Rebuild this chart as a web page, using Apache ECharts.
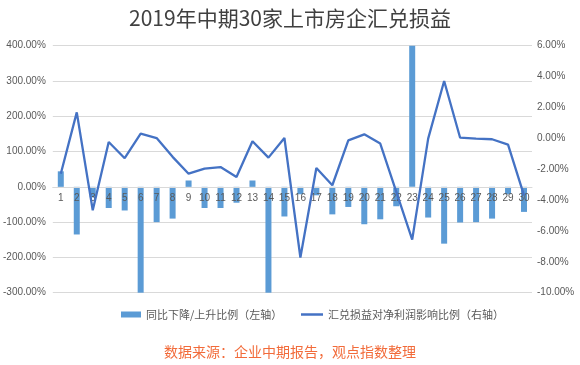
<!DOCTYPE html>
<html>
<head>
<meta charset="utf-8">
<script src="https://cdn.jsdelivr.net/npm/echarts@6/dist/echarts.min.js"></script>
<style>
html,body{margin:0;padding:0;background:#fff;}
#c{width:580px;height:365px;}
</style>
</head>
<body>
<div id="c"></div>
<script>
const titleText = '2019年中期30家上市房企汇兑损益';
const sourceText = '数据来源：企业中期报告，观点指数整理';
const categories = ['1','2','3','4','5','6','7','8','9','10','11','12','13','14','15','16','17','18','19','20','21','22','23','24','25','26','27','28','29','30'];
const barName = '同比下降/上升比例（左轴）';
const lineName = '汇兑损益对净利润影响比例（右轴）';
// left axis, percent
const barValues = [44,-135,-30,-60,-67,-300,-100,-90,18,-60,-60,-45,18,-300,-84,-21,-24,-78,-57,-106,-92,-55,400,-87,-161,-101,-100,-90,-21,-71];
// right axis, percent
const lineValues = [-2.3,1.68,-4.66,-0.24,-1.29,0.3,0.02,-1.2,-2.29,-1.96,-1.86,-2.5,-0.19,-1.25,0.02,-7.72,-1.92,-3.04,-0.13,0.26,-0.34,-3.45,-6.56,-0.02,3.71,0.04,-0.02,-0.06,-0.41,-3.69];
const leftMin = -300, leftMax = 400;

const chart = echarts.init(document.getElementById('c'), null, {renderer:'canvas'});
const labelColor = '#595959';
const gridColor = '#d9d9d9';
const legendFont = {fontSize:11,color:'#595959',fontFamily:'Noto Sans CJK SC'};
const gridTop = 45.7, gridBottom = 72.3;
const plotH = 365 - gridTop - gridBottom;
const zeroShift = plotH * (0 - leftMin) / (leftMax - leftMin);
chart.setOption({
  animation:false,
  backgroundColor:'#fff',
  title:[
    {text:titleText,left:'center',top:3,textStyle:{fontSize:21,fontWeight:'normal',color:'#404040',fontFamily:'Noto Sans CJK SC'}},
    {text:sourceText,left:'center',top:340,textStyle:{fontSize:14,fontWeight:'normal',color:'#f26b3a',fontFamily:'Noto Sans CJK SC'}}
  ],
  legend:[
    {top:304,left:116,itemWidth:20,itemHeight:6,itemGap:6,textStyle:legendFont,
     data:[{name:barName,icon:'rect'}]},
    {top:304,left:296,itemWidth:22,itemHeight:2.5,itemGap:6,textStyle:legendFont,
     data:[{name:lineName,icon:'rect'}]}
  ],
  grid:{left:50,right:48,top:gridTop,bottom:gridBottom},
  xAxis:{
    type:'category',data:categories,position:'bottom',offset:-zeroShift,z:5,
    axisLine:{onZero:false,lineStyle:{color:gridColor}},
    axisTick:{show:false},
    axisLabel:{color:labelColor,fontSize:10,margin:6,interval:0,fontFamily:'Liberation Sans'}
  },
  yAxis:[
    {type:'value',min:leftMin,max:leftMax,interval:100,
     axisLabel:{color:labelColor,fontSize:10,margin:7,formatter:v=>v.toFixed(2)+'%',fontFamily:'Liberation Sans'},
     splitLine:{lineStyle:{color:gridColor}},axisLine:{show:false},axisTick:{show:false}},
    {type:'value',min:-10,max:6,interval:2,
     axisLabel:{color:labelColor,fontSize:10,margin:5,formatter:v=>v.toFixed(2)+'%',fontFamily:'Liberation Sans'},
     splitLine:{show:false},axisLine:{show:false},axisTick:{show:false}}
  ],
  series:[
    {name:barName,type:'bar',data:barValues,yAxisIndex:0,barWidth:6,z:2,itemStyle:{color:'#5B9BD5'}},
    {name:lineName,type:'line',data:lineValues,yAxisIndex:1,symbol:'none',z:8,lineStyle:{color:'#4472C4',width:2.3},itemStyle:{color:'#4472C4'}}
  ]
});
</script>
</body>
</html>
